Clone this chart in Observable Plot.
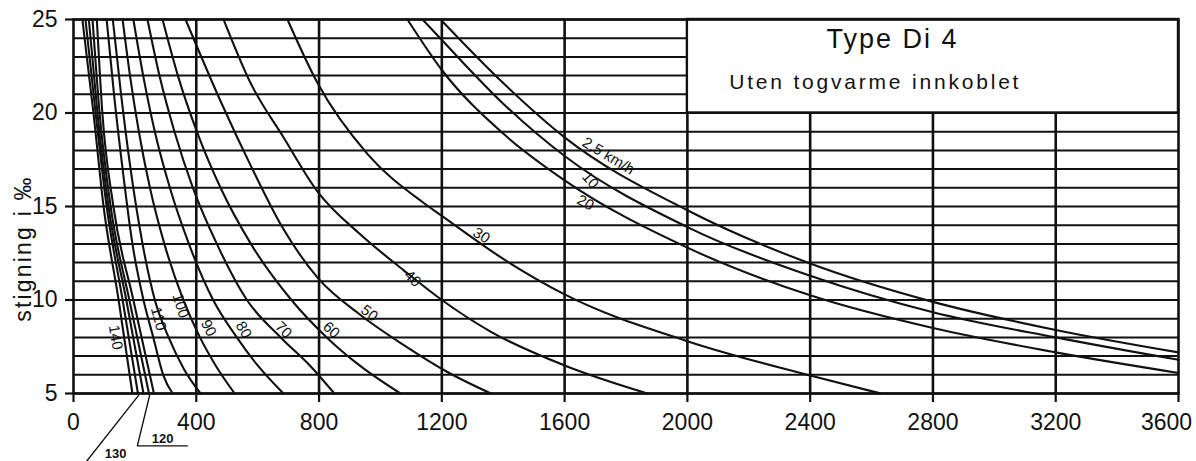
<!DOCTYPE html>
<html><head><meta charset="utf-8">
<script src="https://cdn.jsdelivr.net/npm/d3@7"></script>
<script src="https://cdn.jsdelivr.net/npm/@observablehq/plot@0.6"></script>
<style>
body{margin:0;background:#fff;}
#chart svg{display:block;}
</style>
</head><body><div id="chart"></div>
<script>
// axis ticks
const xTicks = [0,400,800,1200,1600,2000,2400,2800,3200,3600];
const yTicks = [5,10,15,20,25];
const gradeGrid = [5,6,7,8,9,10,11,12,13,14,15,16,17,18,19,20,21,22,23,24,25];
const loadGrid = [400,800,1200,1600,2000,2400,2800,3200];

// curves: [load, gradient ‰]
const c2_5 = [[1196,25],[1400,21.6],[1600,18.7],[2000,14.8],[2400,11.95],[2800,9.9],[3200,8.4],[3600,7.2]];
const c10  = [[1137,25],[1200,23.9],[1400,20.5],[1600,17.7],[2000,13.9],[2400,11.3],[2800,9.35],[3200,8.0],[3600,6.8]];
const c20  = [[1088,25],[1200,22.3],[1400,18.9],[1600,16.4],[2000,12.8],[2400,10.25],[2800,8.5],[3200,7.2],[3600,6.1]];
const c30  = [[697,25],[795,21.6],[958,17.8],[1140,15.2],[1200,14.5],[1400,12.2],[1600,10.3],[2000,7.8],[2400,5.96],[2630,5]];
const c40  = [[489,25],[577,21.6],[684,18.7],[795,15.8],[935,13.5],[1075,11.6],[1200,10.0],[1360,8.3],[1600,6.5],[1870,5]];
const c50  = [[365,25],[480,20.6],[577,17.2],[680,13.9],[795,11.2],[935,9.2],[1075,7.6],[1218,6.15],[1360,5]];
const c60  = [[290,25],[340,22],[402,19],[479,16],[578,13],[710,10],[825,8],[932,6.5],[1065,5]];
const c70  = [[241,25],[280,22],[329,19],[389,16],[467,13],[565,10],[675,8],[770,6.5],[850,5]];
const c80  = [[195,25],[227,22],[265,19],[314,16],[376,13],[455,10],[532,8],[600,6.5],[684,5]];
const c90  = [[160,25],[184,22],[213,19],[249,16],[296,13],[358,10],[412,8],[463,6.5],[525,5]];
const c100 = [[128,25],[155,21],[186,17],[225,13],[265,10],[310,8],[360,6.3],[414,5]];
const c110 = [[108,25],[132,21],[160,17],[192,13],[228,10],[260,8],[292,6],[323,5]];
const cUa  = [[76,25],[94,20],[130,15],[195,10],[262,5]];
const c120 = [[62,25],[85,20],[121,15],[182,10],[246,5]];
const cUb  = [[50,25],[78,20],[114,15],[172,10],[228,5]];
const c130 = [[39,25],[72,20],[108,15],[160,10],[210,5]];
const c140 = [[29,25],[65,20],[98,15],[147,10],[192,5]];

const seriesNames = ["2,5","10","20","30","40","50","60","70","80","90","100","110","a","120","b","130","140"];
const seriesPts = [c2_5,c10,c20,c30,c40,c50,c60,c70,c80,c90,c100,c110,cUa,c120,cUb,c130,c140];

// curve labels
const curveLabels = ["2,5 km/h","10","20","30","40","50","60","70","80","90","100","110","140"];
const labelX = [1743,1684,1668,1329,1105,964,840,684,554,440,349,277,137];
const labelY = [17.7,16.4,15.2,13.45,11.15,9.3,8.4,8.4,8.4,8.5,9.7,9.0,8.0];
const labelAngle = [31,48,28,32,45,38,42,45,60,62,72,75,80];

// leader annotations below the axis
const leaderTexts = ["130","120"];
const leaderTextX = [137,290];
const leaderTextY = [1.8,2.6];
const leader130 = [[39,1.3],[212,4.9]];
const leader120 = [[371,2.2],[208,2.2],[248,4.9]];

const titleText = "Type Di 4";
const subtitleText = "Uten togvarme innkoblet";
const yLabel = "stigning i ‰";

const rows = [];
seriesPts.forEach((pts,i)=>pts.forEach(p=>rows.push({s:seriesNames[i], x:p[0], y:p[1]})));
const labelRows = curveLabels.map((t,i)=>({t, x:labelX[i], y:labelY[i], r:labelAngle[i]}));
const leaderRows = [
  ...leader130.map(p=>({k:"130",x:p[0],y:p[1]})),
  ...leader120.map(p=>({k:"120",x:p[0],y:p[1]}))
];
const lastTick = xTicks[xTicks.length-1];

const font = "'Liberation Sans', Arial, sans-serif";

const svg = Plot.plot({
  width: 1196, height: 461,
  marginLeft: 73, marginRight: 18, marginTop: 19, marginBottom: 68,
  style: {fontFamily: font, color: "#111", background: "#fff"},
  x: {domain: [0,3600]},
  y: {domain: [5,25]},
  marks: [
    Plot.ruleY(gradeGrid, {stroke: "#111", strokeWidth: 2}),
    Plot.ruleX(loadGrid, {stroke: "#111", strokeWidth: 2.6}),
    Plot.rect([0], {x1: 2000, x2: 3600, y1: 20, y2: 25, fill: "white", stroke: "#111", strokeWidth: 2.4}),
    Plot.frame({stroke: "#111", strokeWidth: 2.6}),
    Plot.line(rows, {x: "x", y: "y", z: "s", stroke: "#111", strokeWidth: 2.1, curve: "monotone-x"}),
    Plot.text(labelRows, {x: "x", y: "y", text: "t", rotate: d=>d.r, fontSize: 15, fill: "#111"}),
    Plot.line(leaderRows, {x: "x", y: "y", z: "k", stroke: "#111", strokeWidth: 1.4, clip: false}),
    Plot.text(leaderTexts.map((t,i)=>({t, x:leaderTextX[i], y:leaderTextY[i]})), {x:"x", y:"y", text:"t", fontSize: 13, fontWeight: "bold", fill:"#111"}),
    Plot.text([titleText], {x: 2668, y: 23.45, text: d=>d, fontSize: 27, textAnchor: "middle", lineAnchor: "bottom", fill: "#111"}),
    Plot.text([subtitleText], {x: 2612, y: 21.3, text: d=>d, fontSize: 21, textAnchor: "middle", lineAnchor: "bottom", fill: "#111"}),
    Plot.axisX({ticks: xTicks, tickSize: 9, tickPadding: 11, fontSize: 23, strokeWidth: 2.2, label: null,
                tickFormat: d => d === lastTick ? "" : String(d)}),
    Plot.text([lastTick], {x: d=>d, frameAnchor: "bottom", lineAnchor: "middle", textAnchor: "middle", dx: -12, dy: 29, text: d=>String(d), fontSize: 23, fill: "#111", clip: false}),
    Plot.axisY({ticks: yTicks, tickSize: 8, tickPadding: 8, fontSize: 23, strokeWidth: 2.2, label: null}),
    Plot.text([yLabel], {frameAnchor: "left", dx: -50, dy: 42, rotate: -90, textAnchor: "middle", text: d=>d, fontSize: 23, fill: "#111"})
  ]
});
d3.select(svg).selectAll("text").each(function(){
  if (this.textContent === subtitleText) this.setAttribute("letter-spacing", "2.8");
  if (this.textContent === titleText) this.setAttribute("letter-spacing", "2");
  if (this.textContent === yLabel) this.setAttribute("letter-spacing", "2.2");
});
document.getElementById("chart").appendChild(svg);
</script>
</body></html>
